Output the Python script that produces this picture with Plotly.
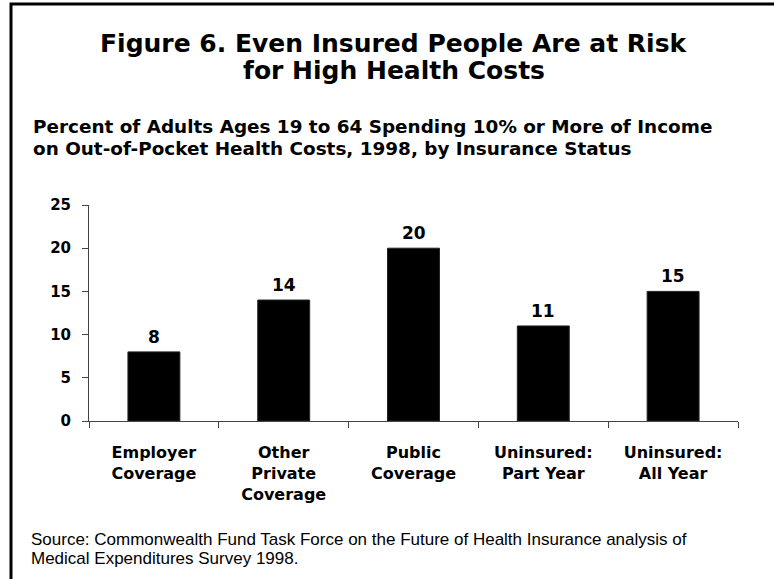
import plotly.graph_objects as go

# Data
categories = [
    "Employer<br>Coverage",
    "Other<br>Private<br>Coverage",
    "Public<br>Coverage",
    "Uninsured:<br>Part Year",
    "Uninsured:<br>All Year",
]
percent_spending = [8, 14, 20, 11, 15]
y_ticks = [0, 5, 10, 15, 20, 25]

title_lines = [
    "Figure 6. Even Insured People Are at Risk",
    "for High Health Costs",
]
subtitle_lines = [
    "Percent of Adults Ages 19 to 64 Spending 10% or More of Income",
    "on Out-of-Pocket Health Costs, 1998, by Insurance Status",
]
source_lines = [
    "Source: Commonwealth Fund Task Force on the Future of Health Insurance analysis of",
    "Medical Expenditures Survey 1998.",
]

# Canvas and plot-area geometry (pixels)
W, H = 774, 579
L, R, T, B = 89, 738, 205, 421

BOLD = "DejaVu Sans, Arial Black, sans-serif"
REG = "Liberation Sans, Arial, sans-serif"


def px_x(x):
    return (x - L) / (R - L)


def px_y(y):
    return (B - y) / (B - T)


fig = go.Figure(
    go.Bar(
        x=categories,
        y=percent_spending,
        width=0.4,
        marker=dict(color="black", line=dict(color="#222", width=1)),
        hoverinfo="skip",
    )
)

annotations = []

# Value labels above each bar
for cat, val in zip(categories, percent_spending):
    annotations.append(dict(
        x=cat, y=val, xref="x", yref="y", text=f"<b>{val}</b>",
        showarrow=False, yanchor="bottom", yshift=3,
        font=dict(family=BOLD, size=17, color="black"),
    ))

# Title (centred, two lines)
for text, yc in zip(title_lines, [44, 71]):
    annotations.append(dict(
        x=px_x(394), y=px_y(yc), xref="paper", yref="paper",
        text=f"<b>{text}</b>", showarrow=False,
        xanchor="center", yanchor="middle",
        font=dict(family=BOLD, size=25, color="black"),
    ))

# Subtitle (left aligned)
for text, yc in zip(subtitle_lines, [127, 148]):
    annotations.append(dict(
        x=px_x(31), y=px_y(yc), xref="paper", yref="paper",
        text=f"<b>{text}</b>", showarrow=False,
        xanchor="left", yanchor="middle",
        font=dict(family=BOLD, size=18.4, color="black"),
    ))

# Source note
for text, yc in zip(source_lines, [539, 558]):
    annotations.append(dict(
        x=px_x(29), y=px_y(yc), xref="paper", yref="paper",
        text=text, showarrow=False,
        xanchor="left", yanchor="middle",
        font=dict(family=REG, size=17, color="black"),
    ))

# Outer frame (left and top edges visible)
shapes = [dict(
    type="rect", xref="paper", yref="paper",
    x0=px_x(11), x1=px_x(W + 20), y0=px_y(H + 20), y1=px_y(4),
    line=dict(color="black", width=3), fillcolor="rgba(0,0,0,0)",
)]

fig.update_layout(
    width=W, height=H,
    margin=dict(l=L, r=W - R, t=T, b=H - B, pad=0),
    paper_bgcolor="white", plot_bgcolor="white",
    showlegend=False,
    annotations=annotations,
    shapes=shapes,
    bargap=0.6,
)

fig.update_xaxes(
    type="category",
    tickson="boundaries",
    ticks="outside", ticklen=6, tickwidth=1, tickcolor="#444",
    showline=True, linecolor="#444", linewidth=1,
    showgrid=False, zeroline=False,
    tickfont=dict(family=BOLD, size=16, color="black"),
    ticklabelstandoff=17,
    tickprefix="<b>", ticksuffix="</b>",
)

fig.update_yaxes(
    range=[0, 25],
    tickmode="array", tickvals=y_ticks,
    ticktext=[f"<b>{v}</b>" for v in y_ticks],
    ticks="outside", ticklen=6, tickwidth=1, tickcolor="#444",
    showline=True, linecolor="#444", linewidth=1,
    showgrid=False, zeroline=False,
    tickfont=dict(family=BOLD, size=15, color="black"),
    ticklabelstandoff=8,
)

fig.write_html("out.html")
